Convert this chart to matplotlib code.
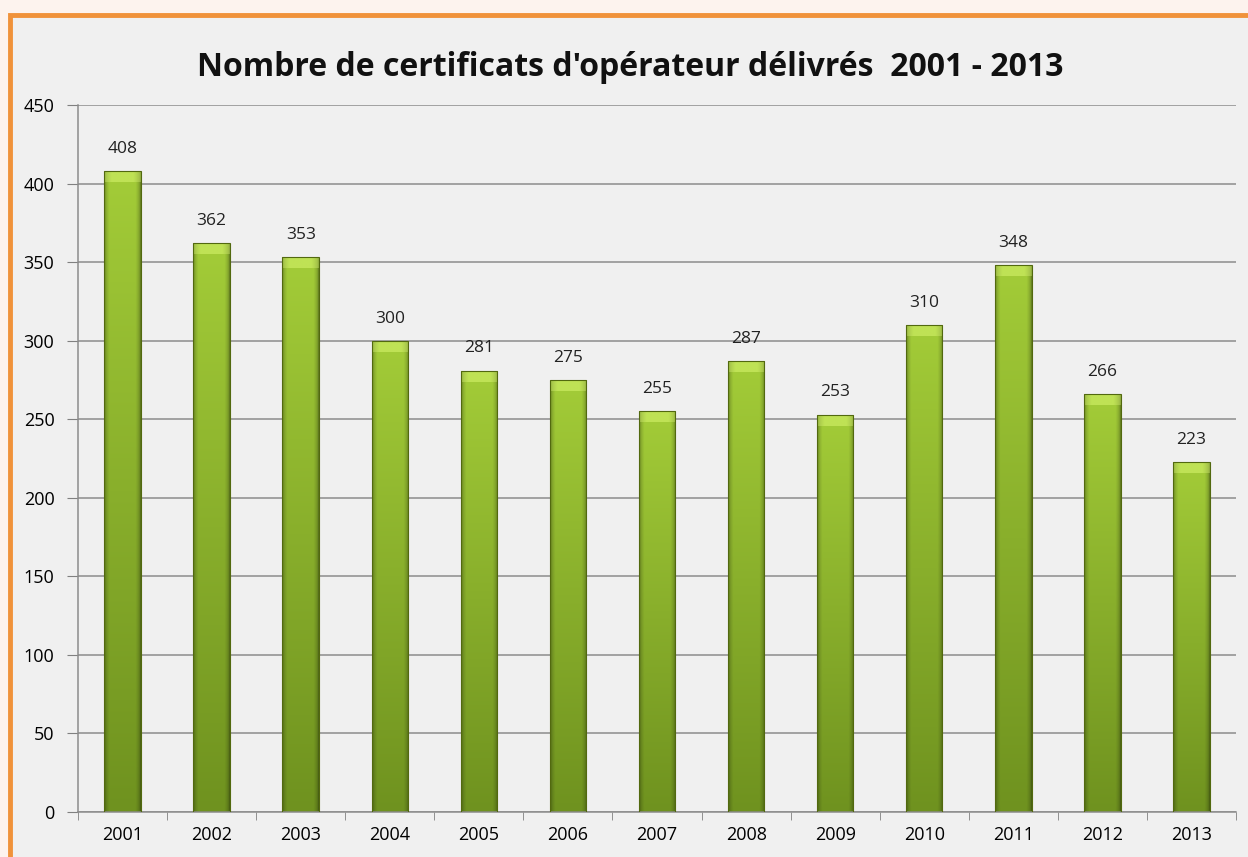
import numpy as np
import matplotlib
matplotlib.use("Agg")
from matplotlib import pyplot as plt
from matplotlib.patches import Rectangle
from matplotlib.colors import to_rgb

# Data
years = ["2001", "2002", "2003", "2004", "2005", "2006", "2007",
         "2008", "2009", "2010", "2011", "2012", "2013"]
counts = [408, 362, 353, 300, 281, 275, 255, 287, 253, 310, 348, 266, 223]
y_ticks = [0, 50, 100, 150, 200, 250, 300, 350, 400, 450]

plt.rcParams["font.family"] = ["Open Sans", "DejaVu Sans"]

fig = plt.figure(figsize=(12.48, 8.57), dpi=100)
fig.patch.set_facecolor("#fdf3ee")

# chart frame (orange border, gray inside)
frame = Rectangle((0.008, -0.05), 1.1, 1.032, transform=fig.transFigure,
                  facecolor="#f0f0f0", edgecolor="#f0923a", linewidth=3.5,
                  zorder=-10)
fig.patches.append(frame)

ax = fig.add_axes([78 / 1248, 1 - 812 / 857, (1236 - 78) / 1248, (812 - 105) / 857])
ax.set_facecolor("#f0f0f0")

x = np.arange(len(years))
bars = ax.bar(x, counts, width=0.41, color="none", edgecolor="#52690f",
              linewidth=0.8, zorder=3)

# shading image: dark sides, bright top fading darker to the bottom
u = np.linspace(0, 1, 64)
side = np.clip(np.minimum(u, 1 - u) / 0.14, 0, 1)
side = 0.6 + 0.4 * np.sqrt(side)
v = np.linspace(0, 1, 200)[:, None]
top_c = np.array(to_rgb("#a3cc38"))
bot_c = np.array(to_rgb("#6f921f"))
body = (top_c * (1 - v) + bot_c * v)[:, None, :] * side[None, :, None]
body = body[:, :, :] if body.ndim == 3 else body
body = np.clip(body.reshape(200, 64, 3), 0, 1)

cap_c = np.array(to_rgb("#bfe255"))
cap = np.clip(cap_c[None, None, :] * (0.75 + 0.25 * np.sqrt(
    np.clip(np.minimum(u, 1 - u) / 0.2, 0, 1)))[None, :, None], 0, 1)

for b in bars:
    x0, w, h = b.get_x(), b.get_width(), b.get_height()
    im = ax.imshow(body, extent=(x0, x0 + w, 0, h), aspect="auto",
                   zorder=2, interpolation="bilinear")
    im.set_clip_path(b)
    top = ax.imshow(cap, extent=(x0, x0 + w, h - 7, h), aspect="auto",
                    zorder=2.5, interpolation="bilinear")
    top.set_clip_path(b)
    ax.text(x0 + w / 2, h + 9, str(int(h)), ha="center", va="bottom",
            fontsize=12.5, color="#222222", zorder=4)

ax.set_xlim(-0.5, len(years) - 0.5)
ax.set_ylim(0, 450)
ax.set_yticks(y_ticks)
ax.set_xticks(x)
ax.set_xticklabels(years)
ax.set_xticks(np.arange(-0.5, len(years), 1), minor=True)
ax.tick_params(axis="x", which="major", length=0, pad=10, labelsize=13)
ax.tick_params(axis="x", which="minor", length=6, color="#808080", direction="out")
ax.tick_params(axis="y", length=8, color="#808080", pad=9, labelsize=13)

ax.yaxis.grid(True, color="#8c8c8c", linewidth=1.1, zorder=1)
ax.set_axisbelow(True)
for s in ["top", "right"]:
    ax.spines[s].set_visible(False)
for s in ["left", "bottom"]:
    ax.spines[s].set_color("#8c8c8c")
    ax.spines[s].set_linewidth(1.1)

fig.text(630 / 1248, 1 - 68 / 857,
         "Nombre de certificats d'opérateur délivrés  2001 - 2013",
         ha="center", va="center", fontsize=23, fontweight="bold",
         color="#111111")

fig.savefig("out.png", dpi=100, facecolor=fig.get_facecolor())
